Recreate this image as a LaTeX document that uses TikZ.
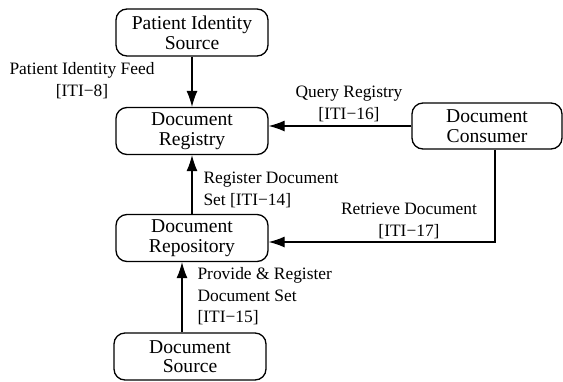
\documentclass[tikz,border=0pt]{standalone}
\usepackage{fontspec}
\setmainfont{Liberation Serif}
\usetikzlibrary{arrows.meta}

\begin{document}
\begin{tikzpicture}[x=0.5pt,y=-0.5pt,->,>={Latex[length=8pt,width=5.5pt]},line width=0.55pt]
      \tikzstyle{box}=[shape=rectangle,rounded corners=5.5pt,draw=black,line width=0.65pt,minimum width=76pt,minimum height=23.5pt,inner sep=0pt,align=center,font=\fontsize{9.8}{9.8}\selectfont];
      \tikzstyle{lbl}=[inner sep=0pt,font=\fontsize{8.7}{10.7}\selectfont];

      \useasboundingbox (0,0) rectangle (563,381);

      \node[box](pis) at (192,32.5) {Patient Identity\\Source};
      \node[box](reg) at (192,131) {Document\\Registry};
      \node[box](repo) at (192,238) {Document\\Repository};
      \node[box](src) at (190,356.5) {Document\\Source};
      \node[box,minimum width=75pt,minimum height=23pt](cons) at (487,126) {Document\\Consumer};

      \node[lbl,align=center](feed) at (82,80.5) {Patient Identity Feed\\{}[ITI\textminus8]};
      \node[lbl,align=center](query) at (349,104) {Query Registry\\{}[ITI\textminus16]};
      \node[lbl,align=left,anchor=west](regset) at (203,190) {Register Document\\Set [ITI\textminus14]};
      \node[lbl,align=center](retr) at (409,221) {Retrieve Document\\{}[ITI\textminus17]};
      \node[lbl,align=left,anchor=west](prov) at (197,296.5) {Provide \& Register\\Document Set\\{}[ITI\textminus15]};

      \path (pis) edge (reg);
      \path (repo) edge (reg);
      \path ([xshift=-4pt]src.north) edge ([xshift=-4pt]src.north |- repo.south);
      \path (cons.west) edge (cons.west -| reg.east);
      \draw ([xshift=4pt]cons.south) |- ([yshift=-2pt]repo.east);

    \end{tikzpicture}
\end{document}
